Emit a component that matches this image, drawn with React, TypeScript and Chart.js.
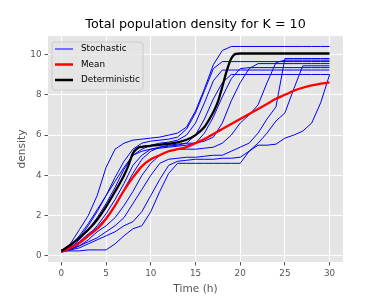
import React, { useEffect, useRef } from "react";
import { Chart, registerables } from "chart.js";

Chart.register(...registerables);

// ---- data ----
const hours = [0, 1, 2, 3, 4, 5, 6, 7, 8, 9, 10, 11, 12, 13, 14, 15, 16, 17, 18, 19, 20, 21, 22, 23, 24, 25, 26, 27, 28, 29, 30];

const stochA = [0.25, 0.6, 1.3, 2.0, 3.0, 4.4, 5.3, 5.6, 5.75, 5.8, 5.85, 5.9, 6.0, 6.1, 6.4, 7.2, 8.3, 9.5, 10.2, 10.4, 10.4, 10.4, 10.4, 10.4, 10.4, 10.4, 10.4, 10.4, 10.4, 10.4, 10.4];
const stochB = [0.2, 0.5, 0.9, 1.5, 2.2, 3.0, 3.9, 4.7, 5.3, 5.6, 5.7, 5.75, 5.8, 5.9, 6.3, 7.1, 8.2, 9.3, 9.65, 9.65, 9.65, 9.65, 9.65, 9.65, 9.65, 9.65, 9.65, 9.65, 9.65, 9.65, 9.65];
const stochC = [0.3, 0.4, 0.8, 1.3, 1.9, 2.6, 3.4, 4.3, 5.0, 5.3, 5.5, 5.6, 5.65, 5.75, 6.0, 6.6, 7.6, 8.7, 9.23, 9.23, 9.23, 9.23, 9.23, 9.23, 9.23, 9.23, 9.23, 9.23, 9.23, 9.23, 9.23];
const stochD = [0.2, 0.3, 0.6, 1.0, 1.5, 2.1, 2.8, 3.6, 4.5, 5.0, 5.3, 5.4, 5.45, 5.5, 5.6, 6.0, 6.8, 7.8, 8.6, 9.01, 9.01, 9.01, 9.01, 9.01, 9.01, 9.01, 9.01, 9.01, 9.01, 9.01, 9.01];
const stochE = [0.2, 0.45, 1.0, 1.6, 2.3, 3.0, 3.7, 4.4, 5.0, 5.2, 5.3, 5.35, 5.4, 5.45, 5.5, 5.6, 6.1, 6.9, 7.9, 8.8, 9.3, 9.35, 9.35, 9.35, 9.35, 9.35, 9.35, 9.35, 9.35, 9.35, 9.35];
const stochF = [0.25, 0.4, 0.7, 1.1, 1.4, 1.9, 2.5, 3.3, 4.1, 4.8, 5.2, 5.4, 5.5, 5.55, 5.6, 5.6, 5.7, 5.9, 6.6, 7.7, 8.6, 9.3, 9.55, 9.55, 9.55, 9.55, 9.55, 9.55, 9.55, 9.55, 9.55];
const stochG = [0.2, 0.3, 0.5, 0.8, 1.2, 1.5, 1.9, 2.5, 3.2, 4.0, 4.6, 5.0, 5.2, 5.3, 5.3, 5.3, 5.35, 5.4, 5.6, 6.0, 6.6, 7.0, 7.5, 8.6, 9.6, 9.72, 9.72, 9.72, 9.72, 9.72, 9.72];
const stochH = [0.3, 0.35, 0.5, 0.7, 0.9, 1.2, 1.5, 1.9, 2.6, 3.3, 4.0, 4.6, 4.8, 4.85, 4.9, 4.9, 4.95, 5.0, 5.0, 5.2, 5.4, 5.6, 6.1, 6.8, 7.4, 9.8, 9.8, 9.8, 9.8, 9.8, 9.8];
const stochI = [0.2, 0.3, 0.4, 0.6, 0.8, 1.0, 1.2, 1.5, 1.7, 2.2, 3.0, 3.8, 4.5, 4.7, 4.75, 4.8, 4.8, 4.8, 4.85, 4.85, 4.9, 5.2, 5.6, 6.1, 6.7, 7.1, 8.3, 9.44, 9.44, 9.44, 9.44];
const stochJ = [0.25, 0.25, 0.25, 0.3, 0.3, 0.3, 0.6, 1.0, 1.35, 1.5, 2.2, 3.2, 4.1, 4.6, 4.6, 4.6, 4.6, 4.6, 4.6, 4.6, 4.6, 5.2, 5.5, 5.5, 5.55, 5.85, 6.0, 6.2, 6.6, 7.6, 9.0];

const stochSeries = [stochA, stochB, stochC, stochD, stochE, stochF, stochG, stochH, stochI, stochJ];

const meanValues = [0.2, 0.4, 0.65, 1.0, 1.35, 1.85, 2.5, 3.25, 3.9, 4.45, 4.8, 5.0, 5.2, 5.3, 5.4, 5.6, 5.8, 6.05, 6.3, 6.55, 6.8, 7.05, 7.3, 7.55, 7.8, 8.0, 8.2, 8.35, 8.47, 8.55, 8.62];

const detTimes = [0, 1, 2, 3, 4, 5, 6, 7, 7.5, 8, 8.5, 9, 10, 11, 12, 13, 14, 15, 16, 16.5, 17, 17.5, 18, 18.5, 19, 19.5, 20, 30];
const detValues = [0.25, 0.55, 0.9, 1.3, 1.8, 2.45, 3.2, 4.0, 4.5, 5.1, 5.35, 5.42, 5.47, 5.52, 5.57, 5.64, 5.77, 6.0, 6.4, 6.75, 7.15, 7.65, 8.4, 9.2, 9.8, 10.03, 10.05, 10.05];

const xTicks = [0, 5, 10, 15, 20, 25, 30];
const yTicks = [0, 2, 4, 6, 8, 10];

const titleText = "Total population density for K = 10";
const xLabel = "Time (h)";
const yLabel = "density";
const legendLabels = ["Stochastic", "Mean", "Deterministic"];
const legendColors = ["#0000FF", "#FF0000", "#000000"];
const legendWidths = [1, 2.5, 2.5];

const FONT = "'DejaVu Sans', sans-serif";

const decorPlugin = {
  id: "decor",
  beforeDraw(chart: any) {
    const { ctx, chartArea: a } = chart;
    ctx.save();
    ctx.fillStyle = "#E5E5E5";
    ctx.fillRect(a.left, a.top, a.right - a.left, a.bottom - a.top);
    ctx.restore();
  },
  afterDraw(chart: any) {
    const { ctx, chartArea: a } = chart;
    const cx = (a.left + a.right) / 2;
    ctx.save();
    // title
    ctx.fillStyle = "#000000";
    ctx.font = `12.7px ${FONT}`;
    ctx.textAlign = "center";
    ctx.textBaseline = "alphabetic";
    ctx.fillText(titleText, cx, 27.5);
    // x label
    ctx.fillStyle = "#555555";
    ctx.font = `10.6px ${FONT}`;
    ctx.fillText(xLabel, cx, 292);
    // y label
    ctx.save();
    ctx.translate(25, (a.top + a.bottom) / 2);
    ctx.rotate(-Math.PI / 2);
    ctx.fillText(yLabel, 0, 0);
    ctx.restore();
    // legend
    const bx = 52, by = 42, bw = 91, bh = 48, r = 3;
    ctx.beginPath();
    ctx.moveTo(bx + r, by);
    ctx.lineTo(bx + bw - r, by);
    ctx.quadraticCurveTo(bx + bw, by, bx + bw, by + r);
    ctx.lineTo(bx + bw, by + bh - r);
    ctx.quadraticCurveTo(bx + bw, by + bh, bx + bw - r, by + bh);
    ctx.lineTo(bx + r, by + bh);
    ctx.quadraticCurveTo(bx, by + bh, bx, by + bh - r);
    ctx.lineTo(bx, by + r);
    ctx.quadraticCurveTo(bx, by, bx + r, by);
    ctx.closePath();
    ctx.fillStyle = "rgba(229,229,229,0.8)";
    ctx.fill();
    ctx.strokeStyle = "#CCCCCC";
    ctx.lineWidth = 1;
    ctx.stroke();
    const rowY = [49, 64.5, 80];
    ctx.font = `8.8px ${FONT}`;
    ctx.textAlign = "left";
    ctx.textBaseline = "middle";
    for (let i = 0; i < legendLabels.length; i++) {
      ctx.beginPath();
      ctx.strokeStyle = legendColors[i];
      ctx.lineWidth = legendWidths[i];
      ctx.moveTo(55, rowY[i]);
      ctx.lineTo(73, rowY[i]);
      ctx.stroke();
      ctx.fillStyle = "#000000";
      ctx.fillText(legendLabels[i], 81, rowY[i]);
    }
    ctx.restore();
  },
};

export default function App() {
  const ref = useRef<HTMLCanvasElement | null>(null);

  useEffect(() => {
    document.body.style.margin = "0";
    const canvas = ref.current;
    if (!canvas) return;

    const datasets: any[] = [];
    stochSeries.forEach((vals) => {
      datasets.push({
        data: hours.map((t, i) => ({ x: t, y: vals[i] })),
        borderColor: "#0000FF",
        borderWidth: 1,
        pointRadius: 0,
        fill: false,
        tension: 0,
        order: 3,
      });
    });
    datasets.push({
      data: hours.map((t, i) => ({ x: t, y: meanValues[i] })),
      borderColor: "#FF0000",
      borderWidth: 2.3,
      pointRadius: 0,
      fill: false,
      cubicInterpolationMode: "monotone",
      order: 2,
    });
    datasets.push({
      data: detTimes.map((t, i) => ({ x: t, y: detValues[i] })),
      borderColor: "#000000",
      borderWidth: 2.3,
      pointRadius: 0,
      fill: false,
      cubicInterpolationMode: "monotone",
      order: 1,
    });

    const tickFont = { family: "DejaVu Sans", size: 8.8 };

    const chart = new Chart(canvas, {
      type: "line",
      data: { datasets },
      options: {
        responsive: false,
        animation: false,
        devicePixelRatio: 1,
        layout: { padding: { top: 36, left: 0, right: 39, bottom: 0 } },
        plugins: {
          legend: { display: false },
          title: { display: false },
          tooltip: { enabled: false },
        },
        scales: {
          x: {
            type: "linear",
            min: -1.5,
            max: 31.5,
            afterBuildTicks: (s: any) => {
              s.ticks = xTicks.map((v) => ({ value: v }));
            },
            afterFit: (s: any) => {
              s.height = 38;
            },
            grid: {
              color: "#FFFFFF",
              lineWidth: 1,
              drawTicks: true,
              tickLength: 3.5,
              tickColor: "#555555",
            },
            border: { display: false },
            ticks: {
              color: "#555555",
              font: tickFont,
              padding: 3,
              maxRotation: 0,
              autoSkip: false,
            },
          },
          y: {
            type: "linear",
            min: -0.3,
            max: 10.92,
            afterBuildTicks: (s: any) => {
              s.ticks = yTicks.map((v) => ({ value: v }));
            },
            afterFit: (s: any) => {
              s.width = 48;
            },
            grid: {
              color: "#FFFFFF",
              lineWidth: 1,
              drawTicks: true,
              tickLength: 3.5,
              tickColor: "#555555",
            },
            border: { display: false },
            ticks: {
              color: "#555555",
              font: tickFont,
              padding: 3,
              autoSkip: false,
            },
          },
        },
      },
      plugins: [decorPlugin],
    } as any);

    return () => chart.destroy();
  }, []);

  return (
    <div style={{ width: 382, height: 300, position: "relative", background: "#FFFFFF" }}>
      <canvas ref={ref} width={382} height={300} />
    </div>
  );
}
